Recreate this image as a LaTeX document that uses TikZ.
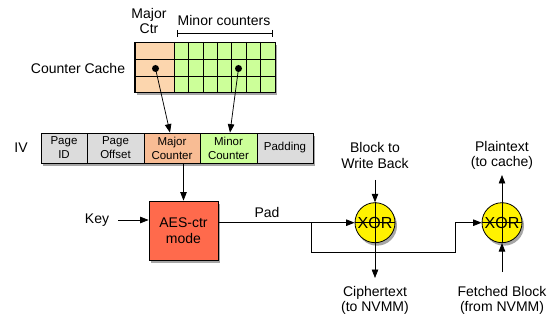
\documentclass[tikz,border=0pt]{standalone}
\usepackage{fontspec}
\setmainfont{Liberation Sans}
\usetikzlibrary{arrows.meta,shadows}
\definecolor{cachemaj}{HTML}{FCD6AE}
\definecolor{ivmaj}{HTML}{F8BC94}
\definecolor{minorg}{HTML}{CCFF99}
\definecolor{cellgray}{HTML}{DCDCDC}
\definecolor{aesc}{HTML}{FF6A4C}
\definecolor{xory}{HTML}{FFF200}
\tikzset{
  lbl/.style={font=\fontsize{14}{15.5}\selectfont, align=center, inner sep=0pt},
  cell/.style={draw=black, line width=0.8pt, minimum height=30pt, inner sep=0pt, align=center, font=\fontsize{11.5}{14}\selectfont},
  arr/.style={-{Triangle[length=8.5pt,width=6.5pt]}, line width=0.75pt},
  shad/.style={drop shadow={shadow xshift=2pt, shadow yshift=-3pt, opacity=0.35, fill=black}},
  xorn/.style={circle, draw=black, line width=0.8pt, fill=xory, minimum size=40pt, inner sep=0pt, font=\fontsize{16}{16}\selectfont, shad},
  dotn/.style={circle, fill=black, minimum size=7pt, inner sep=0pt},
  gridln/.style={line width=0.7pt},
}
\begin{document}
\begin{tikzpicture}[x=1pt,y=-1pt]
\useasboundingbox (0,0) rectangle (548,320);
% labels top
\node[lbl] (majctr) at (149,21) {Major\\Ctr};
\node[lbl] (minctr) at (224,20.5) {Minor counters};
\draw[line width=0.7pt] (177,30) -- (177,37) (177,33.7) -- (272,33.7) (272,30) -- (272,37);
\node[lbl] (cclabel) at (78,68) {Counter Cache};
% counter cache
\path[shad, fill=white] (135,42) rectangle (275,92);
\node[draw=black, line width=0.8pt, fill=cachemaj, minimum width=39.5pt, minimum height=50pt, inner sep=0pt] (cmaj) at (154.5,67) {};
\node[draw=black, line width=0.8pt, fill=minorg, minimum width=101pt, minimum height=50pt, inner sep=0pt] (cmin) at (224.5,67) {};
\foreach \yy in {59,76} \draw[gridln] (135,\yy) -- (275,\yy);
\foreach \k in {1,...,6} \draw[gridln] ({174+14.43*\k},42) -- ({174+14.43*\k},92);
\draw[line width=0.8pt] (135,42) rectangle (275,92) (174,42) -- (174,92);
\node[dotn] (dmaj) at (155.5,68.5) {};
\node[dotn] (dmin) at (238.5,68.5) {};
% IV
\node[lbl] (ivl) at (21,148) {IV};
\path[shad, fill=white] (41,133) rectangle (313,163);
\node[cell, fill=cellgray, minimum width=46pt] (pid) at (64,148) {Page\\ID};
\node[cell, fill=cellgray, minimum width=57pt] (poff) at (115.5,148) {Page\\Offset};
\node[cell, fill=ivmaj, minimum width=56pt] (mc) at (172,148) {Major\\Counter};
\node[cell, fill=minorg, minimum width=57pt] (mnc) at (228.5,148) {Minor\\Counter};
\node[cell, fill=cellgray, minimum width=56pt] (pad) at (285,148) {Padding};
\draw[arr] (dmaj.center) -- ([xshift=-2pt]mc.north);
\draw[arr] (dmin.center) -- ([xshift=1.5pt]mnc.north);
% AES
\node[draw=black, line width=0.8pt, fill=aesc, minimum width=69pt, minimum height=59pt, shad, lbl] (aes) at (183.5,230.5) {AES-ctr\\mode};
\draw[arr] (aes.north |- mc.south) -- (aes.north);
\node[lbl] (key) at (97,220) {Key};
\draw[arr] ([xshift=9pt]key.east) -- (aes.west |- key.east);
% XORs
\node[xorn] (x1) at (375,222.7) {XOR};
\draw[line width=0.7pt] (x1.north) -- (x1.south) (x1.west) -- (x1.east);
\node[xorn] (x2) at (502,222.7) {XOR};
\draw[line width=0.7pt] (x2.north) -- (x2.south) (x2.west) -- (x2.east);
\draw[arr] (aes.east |- x1.west) -- (x1.west);
\node[lbl] (padl) at (267,212) {Pad};
\coordinate (br) at (311,222.7);
\draw[arr] (br) |- (455,252.7) |- (x2.west);
% labels around XORs
\node[lbl] (bwb) at (375,155.5) {Block to\\Write Back};
\coordinate (bwbend) at (375,180);
\draw[arr] (bwbend) -- (x1.north);
\node[lbl] (ct) at (375,300.5) {Ciphertext\\(to NVMM)};
\coordinate (ctend) at (375,278);
\draw[arr] (x1.south) -- (ctend);
\node[lbl] (pt) at (502,155.5) {Plaintext\\(to cache)};
\coordinate (ptend) at (502,175);
\draw[arr] (x2.north) -- (ptend);
\node[lbl] (fb) at (502,300.5) {Fetched Block\\(from NVMM)};
\coordinate (fbstart) at (502,272);
\draw[arr] (fbstart) -- (x2.south);
\end{tikzpicture}
\end{document}
